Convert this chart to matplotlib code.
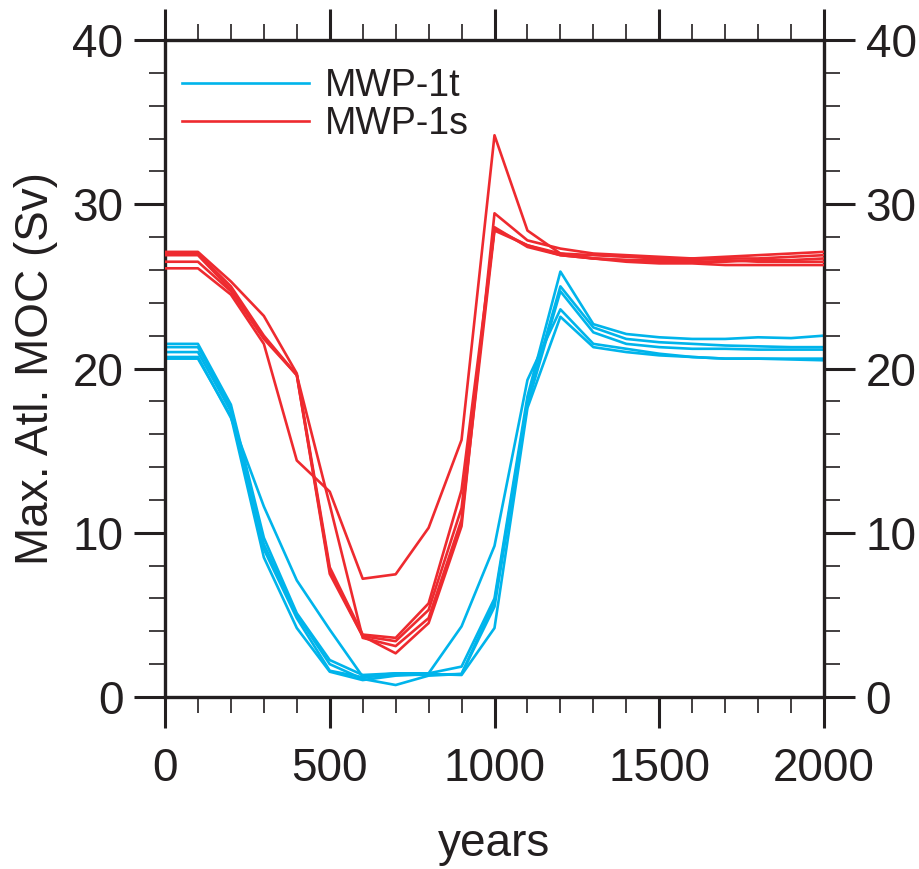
import matplotlib
matplotlib.use("Agg")
import matplotlib.pyplot as plt
from matplotlib.ticker import MultipleLocator

plt.rcParams['font.family'] = ['Liberation Sans', 'DejaVu Sans']

years = list(range(0, 2001, 100))

# MWP-1t (blue) runs
mwp1t = [
    [21.5, 21.5, 17.8, 9.7, 5.1, 2.25, 1.34, 1.44, 1.44, 1.85, 6.0, 18.3, 25.9, 22.7, 22.1, 21.9, 21.8, 21.8, 21.9, 21.85, 22.0],
    [21.3, 21.3, 17.6, 9.3, 5.0, 2.0, 1.1, 0.73, 1.3, 1.4, 5.8, 18.0, 25.0, 22.5, 21.8, 21.6, 21.5, 21.4, 21.35, 21.3, 21.3],
    [21.0, 21.0, 17.4, 9.0, 4.8, 1.6, 1.2, 1.35, 1.35, 1.4, 5.5, 17.8, 24.7, 22.2, 21.5, 21.3, 21.2, 21.2, 21.15, 21.15, 21.15],
    [20.6, 20.6, 17.1, 8.5, 4.2, 1.54, 1.03, 1.3, 1.4, 1.34, 4.2, 17.6, 23.15, 21.3, 21.0, 20.8, 20.7, 20.6, 20.6, 20.55, 20.5],
    [20.7, 20.7, 17.0, 11.6, 7.1, 4.1, 1.24, 1.44, 1.44, 4.3, 9.2, 19.3, 23.6, 21.5, 21.2, 20.9, 20.7, 20.6, 20.6, 20.6, 20.6],
]

# MWP-1s (red) runs
mwp1s = [
    [27.1, 27.1, 25.3, 23.2, 19.7, 7.9, 3.8, 3.6, 5.7, 12.6, 28.5, 27.5, 27.0, 26.9, 26.8, 26.7, 26.7, 26.8, 26.9, 27.0, 27.1],
    [27.0, 27.0, 25.0, 22.0, 19.6, 7.7, 3.7, 3.4, 5.3, 11.5, 28.6, 27.4, 26.9, 26.7, 26.6, 26.6, 26.6, 26.7, 26.7, 26.8, 26.9],
    [26.9, 26.9, 24.8, 21.9, 19.6, 11.7, 3.6, 3.1, 4.8, 10.8, 28.4, 27.5, 26.9, 26.7, 26.6, 26.5, 26.5, 26.5, 26.6, 26.6, 26.7],
    [26.5, 26.5, 24.7, 21.8, 19.6, 7.5, 3.7, 2.66, 4.5, 10.4, 29.45, 27.8, 27.3, 27.0, 26.9, 26.8, 26.7, 26.6, 26.5, 26.5, 26.5],
    [26.1, 26.1, 24.5, 21.5, 14.4, 12.5, 7.2, 7.47, 10.3, 15.65, 34.2, 28.4, 27.0, 26.7, 26.5, 26.4, 26.4, 26.3, 26.3, 26.3, 26.3],
]

labels = ["MWP-1t", "MWP-1s"]
blue = "#00B4EB"
red = "#EE2A2F"

fig = plt.figure(figsize=(9.19, 8.69), dpi=100)
ax = fig.add_axes([165/919, 1-697/869, (824-165)/919, (697-40)/869])

for i, run in enumerate(mwp1t):
    ax.plot(years, run, color=blue, lw=1.9, label=labels[0] if i == 0 else None, zorder=2)
for i, run in enumerate(mwp1s):
    ax.plot(years, run, color=red, lw=1.9, label=labels[1] if i == 0 else None, zorder=3)

ax.set_xlim(0, 2000)
ax.set_ylim(0, 40)
ax.xaxis.set_major_locator(MultipleLocator(500))
ax.xaxis.set_minor_locator(MultipleLocator(100))
ax.yaxis.set_major_locator(MultipleLocator(10))
ax.yaxis.set_minor_locator(MultipleLocator(2))

for s in ax.spines.values():
    s.set_linewidth(2.4)
    s.set_color("#231F20")

ax.tick_params(which='both', direction='out', top=True, right=True,
               labelright=True, colors="#231F20", labelsize=33)
ax.tick_params(which='major', length=22, width=2.2)
ax.tick_params(which='minor', length=11.5, width=1.2)
ax.tick_params(axis='x', which='major', pad=14)
ax.tick_params(axis='y', which='major', pad=8)

ax.set_xlabel("years", fontsize=33, labelpad=22, color="#231F20")
ax.set_ylabel("Max. Atl. MOC (Sv)", fontsize=33, labelpad=10, color="#231F20")

leg = ax.legend(loc='upper left', bbox_to_anchor=(0.0, 1.0 - 11/657), frameon=False,
                fontsize=27, handlelength=3.4, handletextpad=0.4,
                labelspacing=0.05, borderaxespad=0.05, borderpad=0.4)
for t in leg.get_texts():
    t.set_color("#231F20")

fig.savefig("out.png", dpi=100)
